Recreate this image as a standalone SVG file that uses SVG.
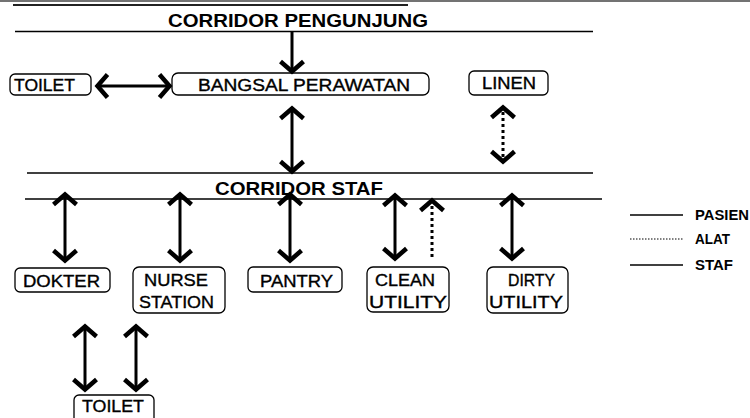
<svg xmlns="http://www.w3.org/2000/svg" width="750" height="418" viewBox="0 0 750 418">
<style>
.bx{fill:#fff;stroke:#000;stroke-width:1.3}
.t{font-family:"Liberation Sans",Arial,sans-serif;font-size:16px;fill:#000;stroke:#000;stroke-width:0.35}
.h{font-family:"Liberation Sans",Arial,sans-serif;font-size:18px;font-weight:bold;fill:#000}
.lg{font-family:"Liberation Sans",Arial,sans-serif;font-size:14px;font-weight:bold;fill:#000}
.ln{stroke:#000;stroke-width:1.3;fill:none}
.a{stroke:#000;stroke-width:3;fill:none;marker-start:url(#hd);marker-end:url(#hd)}
.d{stroke:#000;stroke-width:3;fill:none;stroke-dasharray:3 3}
</style>
<defs>
<marker id="hd" viewBox="-16 -15 18 30" refX="0" refY="0" markerWidth="18" markerHeight="30" markerUnits="userSpaceOnUse" orient="auto-start-reverse" overflow="visible">
<path d="M-11.5,-11.5 L-1.5,0 L-11.5,11.5" fill="none" stroke="#000" stroke-width="4.5"/>
</marker>
</defs>
<g id="frame">
<line x1="0" y1="1" x2="750" y2="1" stroke="#444" stroke-width="1.5"/>
<line x1="13" y1="5" x2="408" y2="5" stroke="#222" stroke-width="2"/>
</g>
<g id="corridor-pengunjung">
<text class="h" x="168" y="27" textLength="260" lengthAdjust="spacingAndGlyphs">CORRIDOR PENGUNJUNG</text>
<line class="ln" x1="15" y1="31.5" x2="593" y2="31.5"/>
</g>
<g id="corridor-staf">
<line class="ln" x1="27" y1="173" x2="593" y2="173"/>
<text class="h" x="215" y="195" textLength="168" lengthAdjust="spacingAndGlyphs">CORRIDOR STAF</text>
<line class="ln" x1="25" y1="199" x2="602" y2="199"/>
</g>
<g id="toilet1">
<rect class="bx" x="10" y="74" width="81" height="21" rx="5"/>
<text class="t" x="14" y="91" textLength="61" lengthAdjust="spacingAndGlyphs">TOILET</text>
</g>
<g id="bangsal">
<rect class="bx" x="172" y="73" width="257" height="22" rx="6"/>
<text class="t" x="198" y="91" textLength="212" lengthAdjust="spacingAndGlyphs">BANGSAL PERAWATAN</text>
</g>
<g id="linen">
<rect class="bx" x="469" y="71" width="79" height="24" rx="5"/>
<text class="t" x="482" y="89" textLength="54" lengthAdjust="spacingAndGlyphs">LINEN</text>
</g>
<g id="dokter">
<rect class="bx" x="15" y="268" width="95" height="24" rx="5"/>
<text class="t" x="23" y="287" textLength="77" lengthAdjust="spacingAndGlyphs">DOKTER</text>
</g>
<g id="nurse">
<rect class="bx" x="133" y="267" width="92" height="46" rx="6"/>
<text class="t" x="144" y="286" textLength="64" lengthAdjust="spacingAndGlyphs">NURSE</text>
<text class="t" x="139" y="308" textLength="75" lengthAdjust="spacingAndGlyphs">STATION</text>
</g>
<g id="pantry">
<rect class="bx" x="248" y="267" width="94" height="25" rx="5"/>
<text class="t" x="260" y="287" textLength="73" lengthAdjust="spacingAndGlyphs">PANTRY</text>
</g>
<g id="clean">
<rect class="bx" x="367" y="267" width="82" height="45" rx="6"/>
<text class="t" x="375" y="286" textLength="60" lengthAdjust="spacingAndGlyphs">CLEAN</text>
<text class="t" x="369" y="308" textLength="78" lengthAdjust="spacingAndGlyphs">UTILITY</text>
</g>
<g id="dirty">
<rect class="bx" x="487" y="267" width="81" height="46" rx="6"/>
<text class="t" x="508" y="286" textLength="47" lengthAdjust="spacingAndGlyphs">DIRTY</text>
<text class="t" x="489" y="308" textLength="74" lengthAdjust="spacingAndGlyphs">UTILITY</text>
</g>
<g id="toilet2">
<rect class="bx" x="74" y="395" width="80" height="30" rx="5"/>
<text class="t" x="82" y="412" textLength="62" lengthAdjust="spacingAndGlyphs">TOILET</text>
</g>
<g id="connectors">
<line x1="292" y1="32" x2="292" y2="73" stroke="#000" stroke-width="3" marker-end="url(#hd)"/>
<line class="a" x1="96" y1="86" x2="171" y2="86"/>
<line class="a" x1="292" y1="107" x2="292" y2="173"/>
<line class="d" x1="503" y1="106" x2="503" y2="163" marker-start="url(#hd)" marker-end="url(#hd)"/>
<line class="a" x1="65" y1="193" x2="65" y2="262"/>
<line class="a" x1="180" y1="193" x2="180" y2="262"/>
<line class="a" x1="290" y1="193" x2="290" y2="262"/>
<line class="a" x1="395" y1="194" x2="395" y2="260"/>
<line class="d" x1="432" y1="257" x2="432" y2="199" marker-end="url(#hd)"/>
<line class="a" x1="512" y1="194" x2="512" y2="260"/>
<line class="a" x1="85" y1="325" x2="85" y2="391"/>
<line class="a" x1="136" y1="325" x2="136" y2="391"/>
</g>
<g id="legend">
<line x1="630" y1="215" x2="683" y2="215" stroke="#000" stroke-width="1.3"/>
<text class="lg" x="695" y="220" textLength="54" lengthAdjust="spacingAndGlyphs">PASIEN</text>
<line x1="630" y1="239" x2="683" y2="239" stroke="#000" stroke-width="1" stroke-dasharray="1.5 1.5"/>
<text class="lg" x="695" y="244" textLength="35" lengthAdjust="spacingAndGlyphs">ALAT</text>
<line x1="630" y1="265" x2="683" y2="265" stroke="#000" stroke-width="1.3"/>
<text class="lg" x="695" y="270" textLength="38" lengthAdjust="spacingAndGlyphs">STAF</text>
</g>
</svg>
